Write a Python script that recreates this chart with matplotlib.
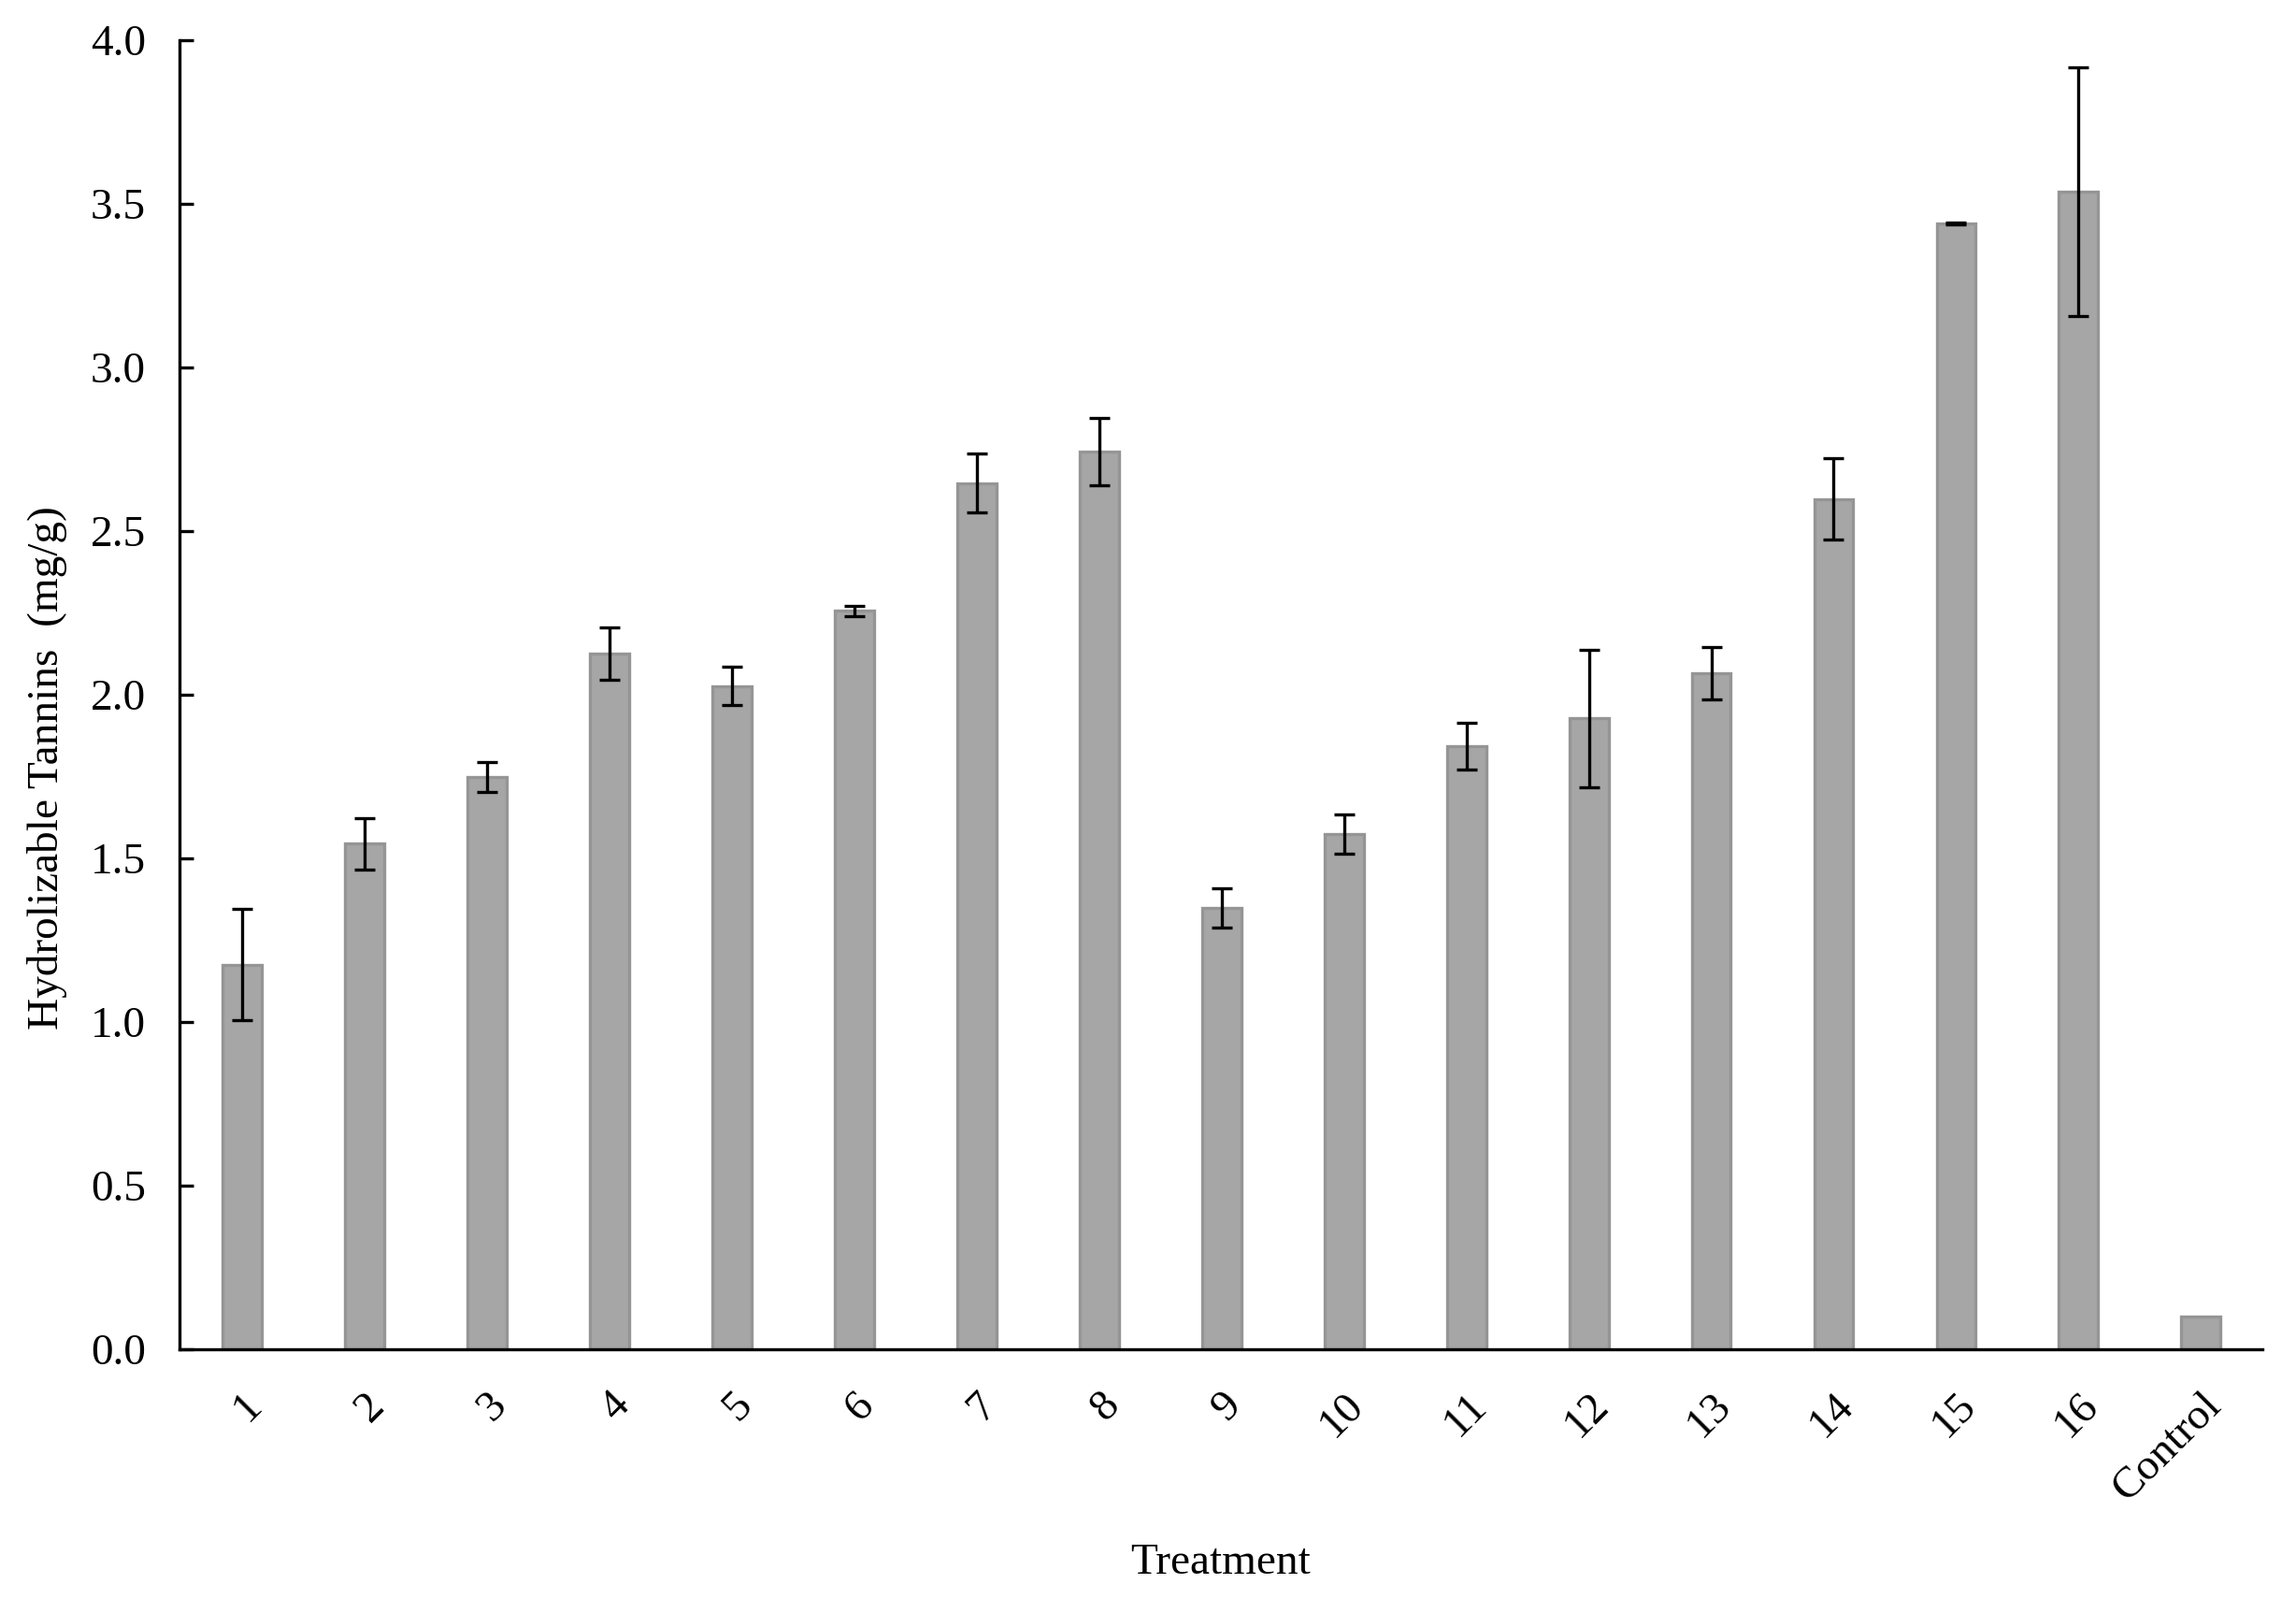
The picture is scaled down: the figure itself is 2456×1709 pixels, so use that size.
import numpy as np
import matplotlib.pyplot as plt

plt.rcParams['font.family'] = ['Liberation Serif', 'DejaVu Serif']

treatments = ["1", "2", "3", "4", "5", "6", "7", "8", "9", "10",
              "11", "12", "13", "14", "15", "16", "Control"]
tannins = [1.175, 1.545, 1.748, 2.126, 2.027, 2.256, 2.647, 2.742, 1.348, 1.573,
           1.843, 1.928, 2.067, 2.598, 3.440, 3.536, 0.100]
err = [0.17, 0.078, 0.045, 0.08, 0.058, 0.015, 0.09, 0.103, 0.06, 0.06,
       0.072, 0.21, 0.08, 0.125, 0.004, 0.38, 0.0]

x = np.arange(len(treatments))

fig = plt.figure(figsize=(12.28, 8.545), dpi=200)
ax = fig.add_axes([0.0782, 0.1557, 0.9071, 0.8191])

ax.bar(x, tannins, width=0.32, color='#a6a6a6', edgecolor='#959595', linewidth=1.2)
ax.errorbar(x[:-1], tannins[:-1], yerr=err[:-1], fmt='none', ecolor='black',
            elinewidth=1.2, capsize=4, capthick=1.2)

ax.set_xlim(-0.51, 16.5)
ax.set_ylim(0, 4.0)
ax.set_yticks(np.arange(0, 4.01, 0.5))
ax.set_yticklabels([f"{v:.1f}" for v in np.arange(0, 4.01, 0.5)], fontsize=17)
ax.tick_params(axis='y', direction='in', length=5.5, width=1.2, pad=13)
ax.set_xticks(x)
ax.set_xticklabels(treatments, rotation=45, ha='right', va='top',
                   rotation_mode='anchor', fontsize=17)
ax.tick_params(axis='x', length=0, pad=14)

ax.spines['top'].set_visible(False)
ax.spines['right'].set_visible(False)
ax.spines['left'].set_linewidth(1.2)
ax.spines['bottom'].set_linewidth(1.2)

ax.set_ylabel("Hydrolizable Tannins  (mg/g)", fontsize=17)
ax.yaxis.set_label_coords(-0.054, 0.444)
ax.set_xlabel("Treatment", fontsize=17)
ax.xaxis.set_label_coords(0.5, -0.148)

fig.savefig("out.png", dpi=200)
